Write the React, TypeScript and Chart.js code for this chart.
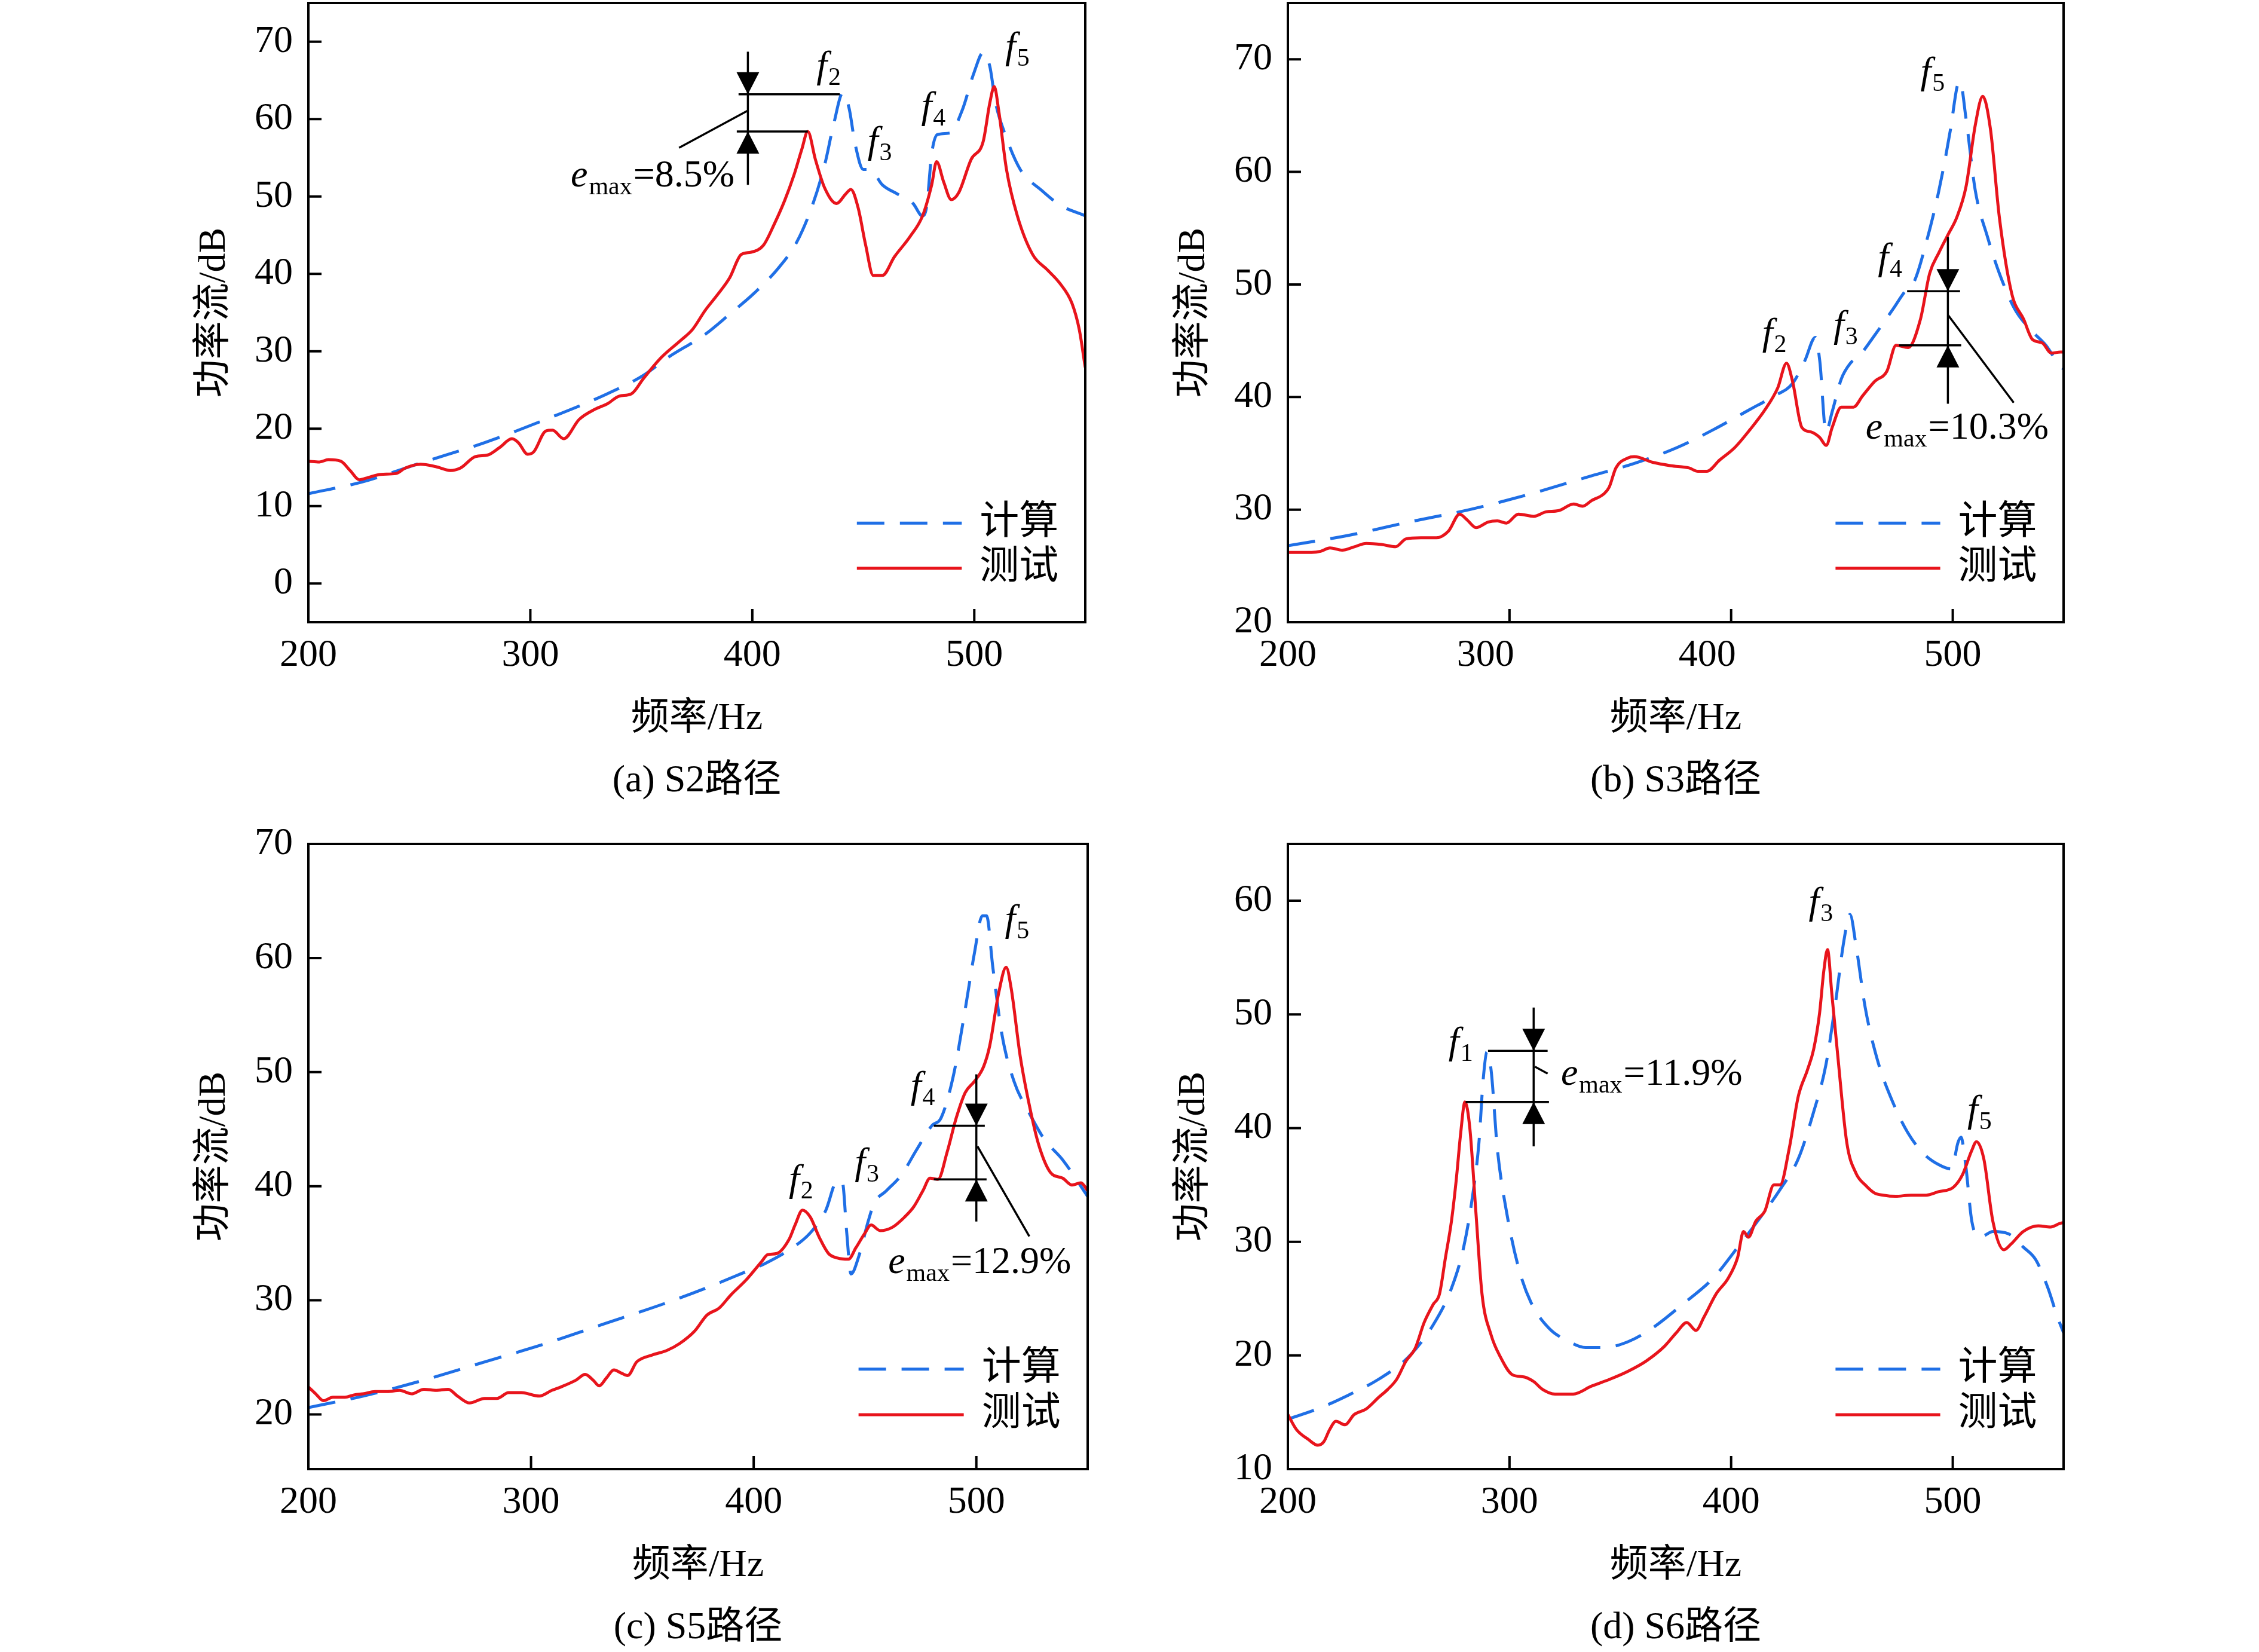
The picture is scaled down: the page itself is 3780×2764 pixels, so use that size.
import { useEffect, useRef } from "react";
import { Chart, registerables, type ChartConfiguration, type Plugin } from "chart.js";

Chart.register(...registerables);

const SERIF = '"Liberation Serif", "Times New Roman", "Noto Sans CJK SC", serif';
const RED = "#e8141c";
const BLUE = "#1f6fe6";
const INK = "#000000";

const hzTicks = [200, 300, 400, 500];
const legendLabels = ["计算", "测试"];
const xTitle = "频率/Hz";
const yTitle = "功率流/dB";

// (a) S2 path
const aYTicks = [0, 10, 20, 30, 40, 50, 60, 70];
const aCalcHz = [200, 224, 252, 279.4, 307, 334.6, 351, 362, 378.8, 389.8, 400.8, 411.9, 420, 427, 432.6, 436.7, 440.8, 443.6, 446.3, 450, 453, 458.6, 465.5, 472.4, 476.6, 478.6, 480.8, 483.4, 489, 494.5, 500, 504, 507, 509.6, 513.8, 520.7, 530.3, 538.6, 550];
const aCalcDb = [11.6, 13.1, 15.7, 18.2, 21.2, 24.5, 26.9, 29.2, 32.2, 34.8, 37.5, 40.8, 44.1, 48.8, 54.1, 59.4, 63.4, 61.4, 56.8, 53.5, 53.5, 51.5, 50.3, 49.1, 47.5, 48.8, 55.5, 58.0, 58.2, 61.1, 66.1, 68.6, 66.8, 62.1, 58.1, 53.5, 50.8, 48.9, 47.5];
const aTestHz = [200, 205, 209, 214.6, 218.8, 223, 227, 232.6, 239.4, 243.6, 250.5, 257.4, 264, 268.4, 275.3, 280.8, 286.3, 291.7, 294.6, 298.8, 301.5, 307, 310, 315, 322, 329, 334.6, 340, 345.5, 351, 359, 367.7, 373, 378.8, 384, 389.8, 395, 399.4, 405, 410, 414.6, 418.8, 422.3, 425, 428.4, 432.6, 438, 442, 444.4, 447.7, 451, 454.5, 458.6, 464, 471, 476.7, 480.8, 483, 486.3, 489.6, 493, 498.6, 504, 507, 509, 511, 514.5, 519.4, 526.3, 533, 538.5, 544, 547.3, 550];
const aTestDb = [15.8, 15.7, 16.0, 15.8, 14.6, 13.4, 13.7, 14.1, 14.2, 14.9, 15.4, 15.1, 14.6, 14.9, 16.4, 16.6, 17.6, 18.7, 18.2, 16.7, 17.0, 19.7, 19.8, 18.7, 21.2, 22.5, 23.2, 24.2, 24.5, 26.5, 29.2, 31.4, 32.8, 35.3, 37.2, 39.5, 42.5, 42.8, 43.7, 46.5, 49.5, 52.8, 56.1, 58.4, 54.8, 51.1, 49.1, 50.3, 50.9, 48.5, 43.8, 39.8, 39.8, 42.2, 44.8, 47.5, 51.5, 54.5, 51.8, 49.6, 50.5, 54.8, 57.1, 62.1, 64.2, 61.1, 53.5, 47.5, 42.5, 40.5, 38.8, 36.2, 32.8, 27.9];

// (b) S3 path
const bYTicks = [20, 30, 40, 50, 60, 70];
const bCalcHz = [200, 227, 254.7, 282, 309.6, 337, 356.3, 375.5, 392, 408.5, 419.5, 427.7, 433.2, 438, 440, 442.8, 445.6, 449.7, 453.8, 458, 464.8, 473, 478.5, 482.7, 488, 493.7, 499, 502, 503.3, 506, 510.2, 515.7, 521, 528, 535, 542, 548.6, 550];
const bCalcDb = [26.8, 27.7, 28.9, 30.0, 31.4, 33.0, 34.1, 35.5, 37.1, 38.9, 40.1, 41.2, 43.2, 45.3, 43.2, 36.9, 38.7, 41.6, 43.0, 43.7, 45.5, 47.8, 49.4, 50.3, 53.7, 58.3, 63.8, 67.6, 68.0, 64.7, 58.3, 54.2, 51.0, 47.8, 46.0, 44.6, 42.7, 42.5];
const bTestHz = [200, 205, 210.7, 214.8, 219, 224.5, 230, 235.4, 242.3, 248.6, 253.3, 260, 267, 272.5, 277.5, 280.8, 284.9, 290.4, 294.5, 298.6, 304, 311, 316.5, 322, 329, 333, 337, 342.6, 345, 348, 353.6, 356.3, 364.6, 372.8, 381, 385, 389, 394.8, 401.6, 408.5, 415.4, 421, 425, 427.7, 431.9, 436, 440, 442.9, 445.6, 449.7, 455.2, 459.3, 464.8, 470.3, 474.4, 479.9, 485.4, 489.6, 493.7, 497.8, 501.9, 506, 510.2, 513.5, 517, 521, 526.6, 532, 536, 540.4, 544.5, 548.6, 550];
const bTestDb = [26.2, 26.2, 26.2, 26.3, 26.6, 26.4, 26.7, 27.0, 26.9, 26.7, 27.4, 27.5, 27.5, 28.1, 29.6, 29.1, 28.4, 28.9, 29.0, 28.8, 29.6, 29.4, 29.8, 29.9, 30.5, 30.3, 30.8, 31.4, 32.0, 33.7, 34.6, 34.7, 34.2, 33.9, 33.7, 33.4, 33.4, 34.4, 35.5, 37.1, 38.9, 40.8, 43.0, 41.4, 37.3, 36.9, 36.4, 35.7, 37.3, 39.1, 39.1, 40.1, 41.4, 42.3, 44.6, 44.4, 46.9, 51.0, 52.8, 54.4, 56.0, 58.7, 64.2, 66.7, 63.8, 56.0, 49.2, 46.9, 45.1, 44.8, 43.9, 44.0, 44.0];

// (c) S5 path
const cYTicks = [20, 30, 40, 50, 60, 70];
const cCalcHz = [200, 224.6, 251.9, 279.2, 306.6, 333.9, 361.2, 380.3, 394, 404.9, 415.8, 425.4, 432.2, 437.7, 439.9, 441.8, 443.7, 447.3, 451.4, 454.1, 459.6, 466.4, 473.2, 480, 484.2, 489.6, 495, 499.2, 502.7, 504.6, 507.4, 511.5, 516.9, 523.8, 530.6, 538.8, 550];
const cCalcDb = [20.6, 21.6, 23.0, 24.6, 26.2, 28.0, 29.8, 31.2, 32.3, 33.2, 34.4, 35.9, 37.8, 40.5, 40.3, 35.9, 32.3, 33.9, 36.9, 38.5, 39.6, 41.0, 43.2, 45.3, 46.0, 49.6, 55.5, 60.5, 63.7, 63.7, 59.2, 53.3, 49.2, 46.4, 44.1, 42.3, 39.1];
const cTestHz = [200, 203.3, 206.8, 211, 216.4, 220.5, 224.6, 230, 235.5, 241, 246.4, 251.9, 257.4, 262.8, 267, 272.4, 279.2, 284.7, 290, 295.6, 303.8, 309.3, 313.4, 320.2, 324.3, 327.9, 330.6, 333.9, 337.2, 340.7, 343.4, 347.5, 354.4, 361, 366.7, 373.5, 379, 384.4, 389.9, 396.7, 403.6, 406.3, 410.4, 415.8, 418.6, 421.9, 425.4, 429.5, 433.6, 437.7, 442.6, 445.9, 450, 452.7, 456.8, 462.3, 467.8, 471.9, 476, 479.2, 482.8, 486.9, 491, 495, 499.2, 503.3, 506, 510, 513.4, 515.6, 519.7, 523.8, 527.9, 533.3, 538.8, 542.9, 547, 550];
const cTestDb = [22.4, 21.8, 21.2, 21.5, 21.5, 21.7, 21.8, 22.0, 22.0, 22.1, 21.8, 22.2, 22.1, 22.2, 21.6, 21.0, 21.4, 21.4, 21.9, 21.9, 21.6, 22.1, 22.4, 23.0, 23.5, 23.0, 22.5, 23.2, 23.9, 23.6, 23.4, 24.6, 25.2, 25.6, 26.2, 27.3, 28.7, 29.3, 30.5, 31.8, 33.4, 34.0, 34.1, 35.3, 36.6, 37.9, 37.3, 35.5, 34.1, 33.7, 33.6, 34.6, 35.9, 36.6, 36.1, 36.4, 37.3, 38.2, 39.6, 40.7, 40.6, 43.0, 46.0, 48.2, 49.2, 50.5, 52.3, 56.9, 59.2, 57.4, 51.4, 47.1, 43.7, 41.2, 40.7, 40.1, 40.3, 39.6];

// (d) S6 path
const dYTicks = [10, 20, 30, 40, 50, 60];
const dCalcHz = [200, 213.5, 227.2, 240.9, 254.6, 265.6, 273.8, 279.3, 283.4, 286.2, 288.1, 289.8, 291.7, 294.5, 298.6, 304.1, 309.6, 317.8, 326.1, 334.3, 342.6, 353.4, 364.4, 378.1, 391.9, 402.9, 413.8, 422.1, 430.3, 437.2, 442.7, 446.8, 450.9, 453.6, 456.4, 460.5, 466, 472.9, 479.7, 486.6, 493.5, 499.5, 502.3, 503.7, 505.8, 508.6, 512.2, 518.2, 525.1, 532, 537.5, 543, 547.2, 550];
const dCalcDb = [14.4, 15.3, 16.5, 17.9, 19.9, 22.7, 25.9, 29.5, 34.1, 38.7, 44.2, 46.7, 45.1, 38.2, 32.7, 27.7, 24.7, 22.4, 21.3, 20.7, 20.7, 21.2, 22.4, 24.5, 26.8, 29.5, 32.3, 34.6, 37.3, 41.4, 45.5, 50.6, 56.5, 58.8, 56.0, 50.6, 46.0, 42.3, 39.6, 37.8, 36.8, 36.4, 38.7, 39.2, 36.8, 31.8, 30.4, 30.9, 30.7, 29.5, 28.4, 25.9, 23.4, 22.0];
const dTestHz = [200, 203.8, 209.3, 213.5, 216.2, 218.9, 221.7, 225.8, 229.9, 235.4, 240.9, 245, 249.1, 253.3, 257.4, 261.5, 265.6, 268.4, 271.1, 273.8, 276, 278, 279.9, 282.1, 284.8, 287.6, 291.7, 295.8, 301.3, 306.8, 310.9, 315, 320.5, 328.7, 337, 345.2, 353.4, 361.6, 369.9, 375.3, 380, 384.1, 387.8, 393.2, 398.7, 402.9, 405.6, 407.8, 411.1, 415.2, 419.3, 422.1, 426.2, 430.3, 434.4, 437.2, 439.9, 441.8, 443.5, 445.4, 448.1, 452.2, 456.4, 460.5, 464.6, 468.7, 474.2, 481.1, 488, 493.5, 500.3, 504.4, 508.5, 510.7, 514, 518.1, 523.1, 526.3, 531.8, 538.6, 544.1, 548.2, 550];
const dTestDb = [14.8, 13.5, 12.6, 12.1, 12.4, 13.5, 14.2, 13.9, 14.8, 15.3, 16.3, 17.0, 17.9, 19.5, 20.6, 22.9, 24.5, 25.4, 28.6, 31.8, 35.5, 39.6, 42.3, 40.0, 32.7, 25.4, 21.8, 19.9, 18.3, 18.1, 17.7, 17.0, 16.6, 16.6, 17.3, 17.9, 18.6, 19.5, 20.8, 22.0, 22.9, 22.2, 23.4, 25.4, 26.8, 28.6, 30.9, 30.4, 31.8, 32.7, 35.0, 35.0, 38.2, 42.8, 45.1, 46.9, 50.1, 53.8, 55.7, 51.9, 46.4, 38.7, 36.0, 35.0, 34.3, 34.1, 34.0, 34.1, 34.1, 34.4, 34.8, 35.9, 38.0, 38.8, 37.3, 31.8, 29.3, 29.8, 30.9, 31.4, 31.3, 31.6, 31.7];

// resonance labels f_n, anchored at (Hz, dB) of the glyph baseline
const aPeaks = [
  { n: "2", x: 428.9, y: 65.4 },
  { n: "3", x: 451.9, y: 55.7 },
  { n: "4", x: 476.1, y: 60.2 },
  { n: "5", x: 513.9, y: 67.9 },
];
const bPeaks = [
  { n: "2", x: 414, y: 44.7 },
  { n: "3", x: 446.2, y: 45.4 },
  { n: "4", x: 466.2, y: 51.4 },
  { n: "5", x: 485.4, y: 67.9 },
];
const cPeaks = [
  { n: "2", x: 415.8, y: 39.6 },
  { n: "3", x: 445.4, y: 41.1 },
  { n: "4", x: 470.5, y: 47.8 },
  { n: "5", x: 512.8, y: 62.4 },
];
const dPeaks = [
  { n: "1", x: 272.5, y: 46.6 },
  { n: "3", x: 435, y: 58.9 },
  { n: "5", x: 506.6, y: 40.6 },
];

type Mark = {
  x: number;
  span: [number, number];
  upperY: number;
  upperX: [number, number];
  lowerY: number;
  lowerX: [number, number];
  lead: [number, number, number, number];
  value: string;
  textX: number;
  textY: number;
  align: "left" | "right";
};

const aMark: Mark = {
  x: 398, span: [68.7, 51.5],
  upperY: 63.2, upperX: [393.8, 439.4],
  lowerY: 58.4, lowerX: [393, 425],
  lead: [398, 61.1, 367, 56.3],
  value: "=8.5%", textX: 392, textY: 51.3, align: "right",
};
const bMark: Mark = {
  x: 497.8, span: [54.2, 39.4],
  upperY: 49.4, upperX: [479.4, 503.3],
  lowerY: 44.6, lowerX: [475.8, 503.8],
  lead: [497.8, 47.3, 527.5, 39.5],
  value: "=10.3%", textX: 460.7, textY: 36.3, align: "left",
};
const cMark: Mark = {
  x: 500, span: [49.8, 36.9],
  upperY: 45.3, upperX: [480.9, 503.8],
  lowerY: 40.6, lowerX: [480.9, 504.6],
  lead: [500.5, 43.5, 523.8, 35.6],
  value: "=12.9%", textX: 460.4, textY: 32.4, align: "left",
};
const dMark: Mark = {
  x: 310.9, span: [50.6, 38.4],
  upperY: 46.8, upperX: [290.3, 317.2],
  lowerY: 42.3, lowerX: [280.2, 317.8],
  lead: [311.5, 45.4, 317.2, 44.8],
  value: "=11.9%", textX: 323.2, textY: 43.8, align: "left",
};

type Panel = {
  caption: string;
  yMin: number;
  yMax: number;
  yTicks: number[];
  // the source figure prints some x labels left of their tick in (b)
  shiftedLabels: number[];
  calcHz: number[];
  calcDb: number[];
  testHz: number[];
  testDb: number[];
  peaks: { n: string; x: number; y: number }[];
  mark: Mark;
  box: { left: number; top: number; width: number; height: number };
};

const AXIS_W = 200;
const X_AXIS_H = 210;
const CAPTION_H = 96;
const PAD_TOP = 70;
const PAD_RIGHT = 12;

const panels: Panel[] = [
  {
    caption: "(a) S2路径", yMin: -5, yMax: 75, yTicks: aYTicks, shiftedLabels: [],
    calcHz: aCalcHz, calcDb: aCalcDb, testHz: aTestHz, testDb: aTestDb,
    peaks: aPeaks, mark: aMark,
    box: { left: 516, top: 5, width: 1300, height: 1036 },
  },
  {
    caption: "(b) S3路径", yMin: 20, yMax: 75, yTicks: bYTicks, shiftedLabels: [300, 400],
    calcHz: bCalcHz, calcDb: bCalcDb, testHz: bTestHz, testDb: bTestDb,
    peaks: bPeaks, mark: bMark,
    box: { left: 2155, top: 5, width: 1298, height: 1036 },
  },
  {
    caption: "(c) S5路径", yMin: 15.2, yMax: 70, yTicks: cYTicks, shiftedLabels: [],
    calcHz: cCalcHz, calcDb: cCalcDb, testHz: cTestHz, testDb: cTestDb,
    peaks: cPeaks, mark: cMark,
    box: { left: 516, top: 1412, width: 1304, height: 1046 },
  },
  {
    caption: "(d) S6路径", yMin: 10, yMax: 65, yTicks: dYTicks, shiftedLabels: [],
    calcHz: dCalcHz, calcDb: dCalcDb, testHz: dTestHz, testDb: dTestDb,
    peaks: dPeaks, mark: dMark,
    box: { left: 2155, top: 1412, width: 1298, height: 1046 },
  },
];

function drawSubscripted(
  ctx: CanvasRenderingContext2D,
  x: number,
  baseline: number,
  head: string,
  sub: string,
  tail: string,
  align: "left" | "right",
) {
  const headFont = `italic 64px ${SERIF}`;
  const subFont = `42px ${SERIF}`;
  const tailFont = `64px ${SERIF}`;
  ctx.font = headFont;
  const wh = ctx.measureText(head).width;
  ctx.font = subFont;
  const ws = ctx.measureText(sub).width;
  ctx.font = tailFont;
  const wt = tail ? ctx.measureText(tail).width : 0;
  const x0 = align === "right" ? x - (wh + 2 + ws + 2 + wt) : x;
  ctx.textAlign = "left";
  ctx.textBaseline = "alphabetic";
  ctx.font = headFont;
  ctx.fillText(head, x0, baseline);
  ctx.font = subFont;
  ctx.fillText(sub, x0 + wh + 2, baseline + 13);
  if (tail) {
    ctx.font = tailFont;
    ctx.fillText(tail, x0 + wh + 2 + ws + 2, baseline);
  }
}

function decorPlugin(p: Panel): Plugin<"line"> {
  return {
    id: "panelDecor",
    afterDraw(chart) {
      const { ctx, chartArea: area } = chart;
      const xs = chart.scales.x;
      const ys = chart.scales.y;
      const px = (v: number) => xs.getPixelForValue(v);
      const py = (v: number) => ys.getPixelForValue(v);
      const w = area.right - area.left;
      const h = area.bottom - area.top;

      ctx.save();
      ctx.strokeStyle = INK;
      ctx.fillStyle = INK;
      ctx.setLineDash([]);

      // frame and inward ticks
      ctx.lineWidth = 4;
      ctx.strokeRect(area.left, area.top, w, h);
      ctx.beginPath();
      for (const v of p.yTicks) {
        const y = py(v);
        ctx.moveTo(area.left, y);
        ctx.lineTo(area.left + 22, y);
      }
      for (const v of hzTicks) {
        const x = px(v);
        ctx.moveTo(x, area.bottom);
        ctx.lineTo(x, area.bottom - 22);
      }
      ctx.stroke();

      // e_max bracket
      const m = p.mark;
      const mx = px(m.x);
      ctx.lineWidth = 3.5;
      ctx.beginPath();
      ctx.moveTo(mx, py(m.span[0]));
      ctx.lineTo(mx, py(m.span[1]));
      ctx.moveTo(px(m.upperX[0]), py(m.upperY));
      ctx.lineTo(px(m.upperX[1]), py(m.upperY));
      ctx.moveTo(px(m.lowerX[0]), py(m.lowerY));
      ctx.lineTo(px(m.lowerX[1]), py(m.lowerY));
      ctx.moveTo(px(m.lead[0]), py(m.lead[1]));
      ctx.lineTo(px(m.lead[2]), py(m.lead[3]));
      ctx.stroke();
      const tipTop = py(m.upperY);
      ctx.beginPath();
      ctx.moveTo(mx, tipTop);
      ctx.lineTo(mx - 19, tipTop - 37);
      ctx.lineTo(mx + 19, tipTop - 37);
      ctx.closePath();
      ctx.fill();
      const tipBottom = py(m.lowerY);
      ctx.beginPath();
      ctx.moveTo(mx, tipBottom);
      ctx.lineTo(mx - 19, tipBottom + 37);
      ctx.lineTo(mx + 19, tipBottom + 37);
      ctx.closePath();
      ctx.fill();
      drawSubscripted(ctx, px(m.textX), py(m.textY), "e", "max", m.value, m.align);

      // resonance labels
      for (const pk of p.peaks) {
        drawSubscripted(ctx, px(pk.x), py(pk.y), "f", pk.n, "", "left");
      }

      // legend
      const lx0 = area.left + 0.706 * w;
      const lx1 = area.left + 0.841 * w;
      const tx = area.left + 0.864 * w;
      const rows = [area.top + 0.84 * h, area.top + 0.913 * h];
      ctx.lineWidth = 5;
      ctx.strokeStyle = BLUE;
      ctx.setLineDash([46, 26]);
      ctx.beginPath();
      ctx.moveTo(lx0, rows[0]);
      ctx.lineTo(lx1, rows[0]);
      ctx.stroke();
      ctx.strokeStyle = RED;
      ctx.setLineDash([]);
      ctx.beginPath();
      ctx.moveTo(lx0, rows[1]);
      ctx.lineTo(lx1, rows[1]);
      ctx.stroke();
      ctx.fillStyle = INK;
      ctx.font = `66px ${SERIF}`;
      ctx.textAlign = "left";
      ctx.textBaseline = "middle";
      ctx.fillText(legendLabels[0], tx, rows[0]);
      ctx.fillText(legendLabels[1], tx, rows[1]);

      ctx.restore();
    },
  };
}

function buildConfig(p: Panel): ChartConfiguration<"line"> {
  const font = { family: SERIF, size: 64, lineHeight: 1.2 };
  return {
    type: "line",
    data: {
      datasets: [
        {
          label: legendLabels[1],
          data: p.testHz.map((x, i) => ({ x, y: p.testDb[i] })),
          borderColor: RED,
          borderWidth: 5,
          pointRadius: 0,
          cubicInterpolationMode: "monotone",
          fill: false,
        },
        {
          label: legendLabels[0],
          data: p.calcHz.map((x, i) => ({ x, y: p.calcDb[i] })),
          borderColor: BLUE,
          borderWidth: 5,
          borderDash: [46, 26],
          pointRadius: 0,
          cubicInterpolationMode: "monotone",
          fill: false,
        },
      ],
    },
    options: {
      responsive: true,
      maintainAspectRatio: false,
      animation: false,
      layout: { padding: { top: PAD_TOP, right: PAD_RIGHT, left: 0, bottom: 0 } },
      plugins: {
        legend: { display: false },
        tooltip: { enabled: false },
        title: {
          display: true,
          position: "bottom",
          fullSize: false,
          text: p.caption,
          color: INK,
          font: { family: SERIF, size: 64, weight: "normal", lineHeight: 1.25 },
          padding: { top: 16, bottom: 0 },
        },
      },
      scales: {
        x: {
          type: "linear",
          min: 200,
          max: 550,
          afterBuildTicks: (axis: any) => {
            axis.ticks = hzTicks.map((value) => ({ value }));
          },
          afterFit: (axis: any) => {
            axis.height = X_AXIS_H;
          },
          grid: { display: false, drawTicks: false },
          border: { display: false },
          ticks: {
            color: INK,
            font,
            padding: 18,
            maxRotation: 0,
            autoSkip: false,
            callback: (value) =>
              p.shiftedLabels.includes(Number(value)) ? `${value}     ` : `${value}`,
          },
          title: { display: true, text: xTitle, color: INK, font, padding: { top: 0, bottom: 9 } },
        },
        y: {
          type: "linear",
          min: p.yMin,
          max: p.yMax,
          afterBuildTicks: (axis: any) => {
            axis.ticks = p.yTicks.map((value) => ({ value }));
          },
          afterFit: (axis: any) => {
            axis.width = AXIS_W;
          },
          grid: { display: false, drawTicks: false },
          border: { display: false },
          ticks: { color: INK, font, padding: 26 },
          title: { display: true, text: yTitle, color: INK, font, padding: { top: 5, bottom: 0 } },
        },
      },
    },
    plugins: [decorPlugin(p)],
  };
}

function PowerFlowPanel({ panel }: { panel: Panel }) {
  const canvasRef = useRef<HTMLCanvasElement>(null);

  useEffect(() => {
    if (!canvasRef.current) {
      return;
    }
    const chart = new Chart(canvasRef.current, buildConfig(panel));
    return () => {
      chart.destroy();
    };
  }, [panel]);

  const { left, top, width, height } = panel.box;
  return (
    <div
      style={{
        position: "absolute",
        left: left - AXIS_W,
        top: top - PAD_TOP,
        width: AXIS_W + width + PAD_RIGHT,
        height: PAD_TOP + height + X_AXIS_H + CAPTION_H,
      }}
    >
      <canvas ref={canvasRef} />
    </div>
  );
}

export default function App() {
  return (
    <div
      style={{
        position: "absolute",
        left: 0,
        top: 0,
        width: 3780,
        height: 2764,
        overflow: "hidden",
        background: "#ffffff",
      }}
    >
      {panels.map((panel) => (
        <PowerFlowPanel key={panel.caption} panel={panel} />
      ))}
    </div>
  );
}
